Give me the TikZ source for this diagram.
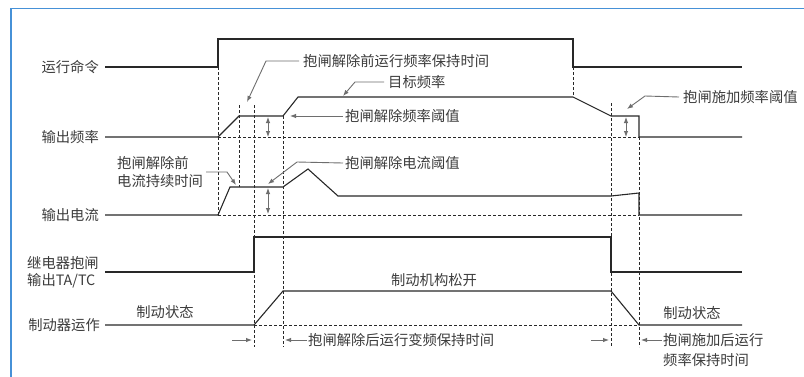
\documentclass[tikz,border=0pt]{standalone}
\usepackage{fontspec}
\setmainfont{Noto Sans CJK SC}
\usetikzlibrary{arrows.meta}
\definecolor{frameblue}{RGB}{70,145,215}
\definecolor{sig}{RGB}{40,40,40}
\definecolor{anncol}{RGB}{110,110,110}
\definecolor{txtcol}{RGB}{60,60,60}
\tikzset{
  sigline/.style={draw=sig,line width=1.1pt,line join=miter},
  dashline/.style={draw=sig,line width=0.8pt,dash pattern=on 3pt off 2pt},
  annline/.style={draw=anncol,line width=0.9pt,-{Latex[length=6pt,width=4.5pt]}},
  dblarrow/.style={draw=anncol,line width=0.9pt,{Latex[length=6pt,width=4.5pt]}-{Latex[length=6pt,width=4.5pt]}},
  lbl/.style={inner sep=0pt,text=txtcol,font=\fontsize{14.3}{17}\selectfont},
}
\begin{document}
\begin{tikzpicture}[x=1pt,y=-1pt]
\useasboundingbox (0,0) rectangle (804,376);
\fill[white] (0,0) rectangle (804,376);
% frame
\draw[frameblue,line width=1.6pt] (11,380) -- (11,8.5) -- (808,8.5);

% signal labels
\node[lbl,anchor=east] (lrun) at (99,67) {运行命令};
\node[lbl,anchor=east] (lfreq) at (99,137) {输出频率};
\node[lbl,anchor=east] (lcur) at (99,215) {输出电流};
\node[lbl,anchor=west] (lrel1) at (27,263) {继电器抱闸};
\node[lbl,anchor=west] (lrel2) at (27,281) {输出TA/TC};
\node[lbl,anchor=east] (lbrk) at (100,325) {制动器运作};

% dashed verticals
\draw[dashline] (218,67) -- (218,215);
\draw[dashline] (239,105) -- (239,187);
\draw[dashline] (254,105) -- (254,347);
\draw[dashline] (283,116) -- (283,347);
\draw[dashline] (573,67) -- (573,97);
\draw[dashline] (611,103) -- (611,347);
\draw[dashline] (639,137) -- (639,347);
% dashed baselines
\draw[dashline] (218,137) -- (639,137);
\draw[dashline] (218,215) -- (639,215);
\draw[dashline] (254,325) -- (639,325);

% waveforms
\draw[sigline] (105,67) -- (218,67) -- (218,39) -- (573,39) -- (573,67) -- (742,67);
\draw[sigline] (105,137) -- (218,137) -- (239,116) -- (283,116) -- (298,97) -- (573,97) -- (611,116) -- (639,116) -- (639,137) -- (742,137);
\draw[sigline] (105,215) -- (218,215) -- (230,187) -- (283,187) -- (308,169) -- (338,196) -- (611,196) -- (639,193) -- (639,215) -- (742,215);
\draw[sigline] (105,272) -- (254,272) -- (254,237) -- (611,237) -- (611,272) -- (742,272);
\draw[sigline] (105,325) -- (254,325) -- (283,291) -- (611,291) -- (639,325) -- (742,325);

% double arrows
\coordinate (d1a) at (268,117); \coordinate (d1b) at (268,137);
\coordinate (d2a) at (268,188); \coordinate (d2b) at (268,214);
\coordinate (d3a) at (626,117); \coordinate (d3b) at (626,137);
\draw[dblarrow] (d1a) -- (d1b);
\draw[dblarrow] (d2a) -- (d2b);
\draw[dblarrow] (d3a) -- (d3b);

% annotations
\node[lbl,anchor=west] (t1) at (303,61) {抱闸解除前运行频率保持时间};
\coordinate (t1tip) at (247,102);
\draw[annline] ([xshift=-4pt]t1.west) -- (266,61) -- (t1tip);

\node[lbl,anchor=west] (t2) at (388,82) {目标频率};
\coordinate (t2tip) at (343,96);
\draw[annline] ([xshift=-4pt]t2.west) -- (355,82) -- (t2tip);

\node[lbl,anchor=west] (t3) at (345,116) {抱闸解除频率阈值};
\coordinate (t3tip) at (290,116);
\draw[annline] ([xshift=-2pt]t3.west) -- (t3tip);

\node[lbl,anchor=west] (t4) at (345,163) {抱闸解除电流阈值};
\coordinate (t4tip) at (268,184);
\draw[annline] ([xshift=-2pt]t4.west) -- (297,162) -- (t4tip);

\node[lbl,anchor=west] (t5a) at (117,163) {抱闸解除前};
\node[lbl,anchor=west] (t5b) at (117,181) {电流持续时间};
\coordinate (t5tip) at (236,185);
\draw[annline] (206,172) -- (227,172) -- (t5tip);

\node[lbl,anchor=west] (t6) at (683,97) {抱闸施加频率阈值};
\coordinate (t6tip) at (627,109);
\draw[annline] ([xshift=-4pt]t6.west) -- (645,96) -- (t6tip);

% state texts
\node[lbl] (s1) at (165,312) {制动状态};
\node[lbl] (s2) at (692,313) {制动状态};
\node[lbl] (s3) at (434,280) {制动机构松开};

% bottom timing arrows
\coordinate (b1s) at (232,340); \coordinate (b1e) at (252,340);
\draw[annline] (b1s) -- (b1e);
\node[lbl,anchor=west] (b2) at (308,340) {抱闸解除后运行变频保持时间};
\coordinate (b2e) at (285,340);
\draw[annline] ([xshift=-1pt]b2.west) -- (b2e);
\coordinate (b3s) at (591,340); \coordinate (b3e) at (609,340);
\draw[annline] (b3s) -- (b3e);
\node[lbl,anchor=west] (b4) at (663,340) {抱闸施加后运行};
\node[lbl,anchor=west] (b5) at (663,360) {频率保持时间};
\coordinate (b4e) at (641,340);
\draw[annline] ([xshift=-1pt]b4.west) -- (b4e);
\end{tikzpicture}
\end{document}
